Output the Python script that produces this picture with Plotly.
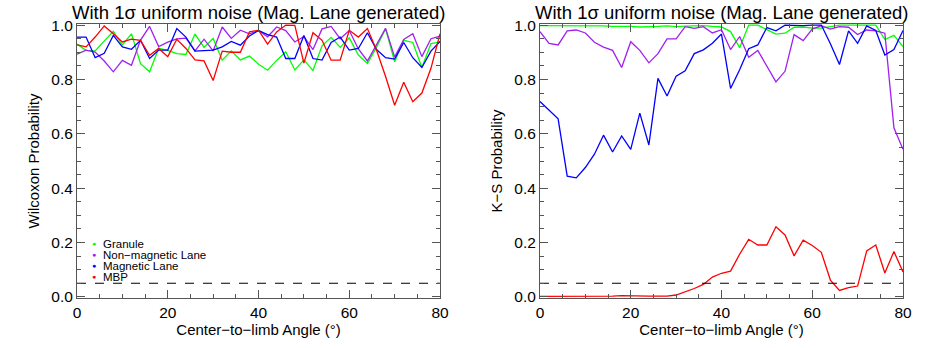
import plotly.graph_objects as go

angles = [0, 2, 4, 6, 8, 10, 12, 14, 16, 18, 20, 22, 24, 26, 28, 30, 32, 34, 36, 38, 40,
          42, 44, 46, 48, 50, 52, 54, 56, 58, 60, 62, 64, 66, 68, 70, 72, 74, 76, 78, 80]

# Wilcoxon probability (left panel)
wil_granule = [0.930, 0.907, 0.905, 0.943, 0.977, 0.927, 0.968, 0.858, 0.828, 0.915, 0.907,
               0.895, 0.892, 0.967, 0.918, 0.951, 0.871, 0.905, 0.872, 0.886, 0.856, 0.834,
               0.870, 0.902, 0.835, 0.872, 0.833, 0.924, 0.955, 0.918, 0.953, 0.890, 0.859,
               0.918, 0.987, 0.865, 0.944, 0.936, 0.844, 0.932, 0.937]
wil_nonmag = [0.893, 0.908, 0.901, 0.868, 0.828, 0.870, 0.852, 0.945, 0.995, 0.921, 0.937,
              0.949, 0.952, 0.905, 0.948, 0.905, 0.993, 0.951, 0.981, 0.968, 0.980, 0.957,
              0.993, 0.980, 0.938, 0.958, 0.910, 0.986, 0.995, 0.950, 0.980, 0.912, 0.868,
              0.926, 0.988, 0.882, 0.947, 0.968, 0.884, 0.950, 0.959]
wil_maglane = [0.956, 0.956, 0.880, 0.896, 0.962, 0.920, 0.911, 0.944, 0.877, 0.908, 0.908,
               0.987, 0.956, 0.904, 0.906, 0.908, 0.920, 0.940, 0.926, 0.960, 0.980, 0.965,
               0.956, 0.877, 0.877, 0.962, 0.877, 0.871, 0.936, 0.956, 0.908, 0.914, 0.972,
               0.910, 0.880, 0.875, 0.936, 0.880, 0.844, 0.904, 0.940]
wil_mbp = [0.927, 0.920, 0.956, 0.997, 0.968, 0.938, 0.948, 0.944, 0.889, 0.914, 0.884,
           0.948, 0.914, 0.872, 0.868, 0.796, 0.904, 0.900, 0.900, 0.975, 0.981, 0.930,
           0.975, 1.000, 0.999, 0.860, 0.972, 0.944, 0.871, 0.871, 0.981, 0.956, 0.987,
           0.908, 0.811, 0.705, 0.790, 0.718, 0.750, 0.841, 0.968]

# K-S probability (right panel)
ks_granule = [0.998, 0.998, 0.998, 0.998, 0.998, 0.998, 0.998, 0.997, 0.995, 0.996, 0.995,
              0.993, 0.993, 0.995, 0.997, 0.994, 0.996, 0.998, 0.998, 0.995, 0.993, 0.976,
              0.917, 1.000, 1.000, 0.983, 0.967, 0.970, 0.992, 0.993, 0.989, 0.989, 0.995,
              1.000, 1.000, 1.000, 1.000, 1.000, 0.947, 0.962, 0.921]
ks_nonmag = [0.976, 0.933, 0.927, 0.979, 0.982, 0.971, 0.937, 0.919, 0.907, 0.844, 0.939,
             0.907, 0.861, 0.895, 0.949, 0.949, 0.994, 0.988, 0.994, 0.971, 0.983, 0.910,
             0.958, 0.882, 0.907, 0.848, 0.791, 0.830, 0.965, 0.943, 0.985, 0.998, 0.985,
             0.994, 0.992, 0.965, 0.982, 0.979, 0.970, 0.622, 0.543]
ks_maglane = [0.719, 0.688, 0.655, 0.444, 0.438, 0.476, 0.525, 0.595, 0.533, 0.592, 0.543,
              0.676, 0.559, 0.804, 0.739, 0.812, 0.832, 0.895, 0.909, 0.933, 0.967, 0.767,
              0.836, 0.913, 0.927, 0.991, 0.979, 1.000, 0.998, 0.998, 1.000, 1.000, 0.931,
              0.855, 0.979, 0.933, 0.997, 0.980, 0.890, 0.910, 0.980]
ks_mbp = [0.002, 0.002, 0.003, 0.004, 0.003, 0.004, 0.004, 0.003, 0.003, 0.005, 0.004,
          0.002, 0.003, 0.003, 0.003, 0.007, 0.018, 0.031, 0.046, 0.073, 0.087, 0.095,
          0.157, 0.212, 0.191, 0.191, 0.258, 0.228, 0.151, 0.209, 0.189, 0.164, 0.062,
          0.024, 0.034, 0.040, 0.169, 0.191, 0.088, 0.167, 0.092]

threshold = 0.05
names = ['Granule', 'Non\u2212magnetic Lane', 'Magnetic Lane', 'MBP']
colors = ['#00ff00', '#a020f0', '#0000ff', '#ff0000']
title = 'With 1\u03c3 uniform noise (Mag. Lane generated)'

FONT = 'Liberation Sans, Arial, Helvetica, sans-serif'
AX = '#555555'

fig = go.Figure()

panels = [('x', 'y', [wil_granule, wil_nonmag, wil_maglane, wil_mbp]),
          ('x2', 'y2', [ks_granule, ks_nonmag, ks_maglane, ks_mbp])]
for xa, ya, series in panels:
    for vals, c in zip(series, colors):
        fig.add_trace(go.Scatter(x=angles, y=vals, mode='lines', xaxis=xa, yaxis=ya,
                                 line=dict(color=c, width=1.3), showlegend=False))
    fig.add_trace(go.Scatter(x=[angles[0], angles[-1]], y=[threshold, threshold], mode='lines',
                             xaxis=xa, yaxis=ya, showlegend=False,
                             line=dict(color='black', width=1.1, dash='dash')))

xcommon = dict(range=[0, 80], dtick=20, ticks='inside', ticklen=8, tickcolor=AX,
               showline=True, linecolor=AX, linewidth=1, mirror='ticks',
               showgrid=False, zeroline=False,
               minor=dict(ticks='inside', ticklen=4, dtick=5, tickcolor=AX),
               tickfont=dict(size=15.5, color='black'),
               title=dict(text='Center\u2212to\u2212limb Angle (\u00b0)', font=dict(size=15),
                          standoff=2))
ycommon = dict(range=[-0.004, 1.004], dtick=0.2, tickformat='.1f', ticks='inside', ticklen=8,
               tickcolor=AX, showline=True, linecolor=AX, linewidth=1, mirror='ticks',
               showgrid=False, zeroline=False,
               minor=dict(ticks='inside', ticklen=4, dtick=0.05, tickcolor=AX),
               tickfont=dict(size=15.5, color='black'))

fig.update_layout(
    width=926, height=348,
    margin=dict(l=77, r=23, t=24, b=50),
    paper_bgcolor='white', plot_bgcolor='white',
    font=dict(family=FONT, color='black'),
    showlegend=False,
    xaxis=dict(xcommon, domain=[0, 0.4395], anchor='y'),
    yaxis=dict(ycommon, domain=[0, 1], anchor='x',
               title=dict(text='Wilcoxon Probability', font=dict(size=15), standoff=8)),
    xaxis2=dict(xcommon, domain=[0.5605, 1], anchor='y2'),
    yaxis2=dict(ycommon, domain=[0, 1], anchor='x2',
                title=dict(text='K\u2212S Probability', font=dict(size=15), standoff=8)),
)

for xr, yr in [('x domain', 'y domain'), ('x2 domain', 'y2 domain')]:
    fig.add_annotation(text=title, xref=xr, yref=yr, x=0.5, y=1, xanchor='center',
                       yanchor='bottom', yshift=-1, showarrow=False,
                       font=dict(size=18.5, color='black'))

# legend drawn as text in the left panel
leg_y = [0.195, 0.155, 0.115, 0.075]
for name, c, ly in zip(names, colors, leg_y):
    fig.add_annotation(text='\u25cf', x=3.75, y=ly, xref='x', yref='y', showarrow=False,
                       xanchor='center', yanchor='middle', font=dict(size=7, color=c))
    fig.add_annotation(text=name, x=5.3, y=ly, xref='x', yref='y', showarrow=False,
                       xanchor='left', yanchor='middle', font=dict(size=11.5, color='black'))

fig.write_html("out.html", config={'displayModeBar': False},
               post_script="document.body.style.margin='0';")
